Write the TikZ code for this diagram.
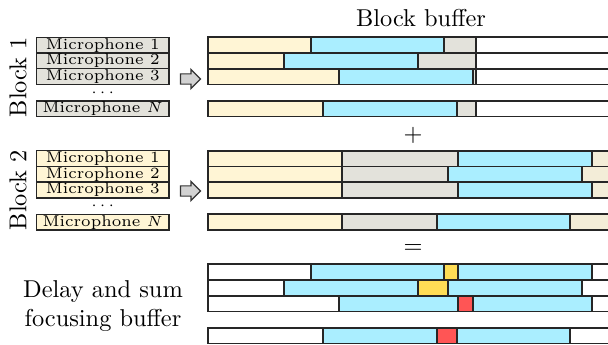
\documentclass[tikz,border=0pt]{standalone}
\usepackage{xcolor}
\usepackage{tikz}
\usetikzlibrary{shapes.arrows, positioning}

\definecolor{bufcream}{HTML}{FFF5D5}
\definecolor{bufblue}{HTML}{AAEEFF}
\definecolor{bufgray}{HTML}{E3E2DB}
\definecolor{bufold}{HTML}{F3EDD8}
\definecolor{bufyellow}{HTML}{FFDD55}
\definecolor{bufred}{HTML}{FF5555}

\begin{document}
\begin{tikzpicture}[
  x=0.41pt, y=-0.41pt,
  seg/.style      = {draw=black!85, line width=0.7pt},
  creamseg/.style = {seg, fill=bufcream},
  blueseg/.style  = {seg, fill=bufblue},
  grayseg/.style  = {seg, fill=bufgray},
  oldseg/.style   = {seg, fill=bufold},
  yelseg/.style   = {seg, fill=bufyellow},
  redseg/.style   = {seg, fill=bufred},
  emptyseg/.style = {seg, fill=white},
  micbox/.style   = {draw=black!85, line width=0.6pt, inner sep=0pt,
                     minimum width=54.5pt, minimum height=6.44pt,
                     font=\fontsize{6.4}{7}\selectfont},
  micdots/.style  = {inner sep=0pt, font=\fontsize{6.4}{7}\selectfont},
  blockarrow/.style = {shape=single arrow, draw=black!80, fill=gray!35,
                     line width=0.5pt, inner sep=1.85pt,
                     single arrow head extend=1.85pt,
                     minimum height=8.2pt},
  blklbl/.style   = {rotate=90, font=\normalsize},
]

\useasboundingbox (0,0) rectangle (608,345);
\clip (0,0) rectangle (608,345);

%% ── Title ───────────────────────────────────────────────────────────────────
\node (title) at (421,18) {Block buffer};

%% ── Block 1 ─────────────────────────────────────────────────────────────────
\node[blklbl] (blk1) at (18,77) {Block 1};

\node[micbox, fill=bufgray] (m1a) at (102.7,45.15)  {Microphone 1};
\node[micbox, fill=bufgray] (m1b) at (102.7,60.85)  {Microphone 2};
\node[micbox, fill=bufgray] (m1c) at (102.7,76.55)  {Microphone 3};
\node[micdots]              (d1)  at (102.7,93)     {$\cdots$};
\node[micbox, fill=bufgray] (m1n) at (102.7,108.65) {Microphone $N$};

\node[blockarrow] (arr1) at (188,79) {};

\foreach \y/\a/\b in {37.3/310.7/444, 53/284/417.7, 68.7/339.3/473.3,
                      100.8/323.3/456.7} {
  \draw[creamseg] (208.3,\y) rectangle (\a,\y+15.7);
  \draw[blueseg]  (\a,\y) rectangle (\b,\y+15.7);
  \draw[grayseg]  (\b,\y) rectangle (475.7,\y+15.7);
  \draw[emptyseg] (475.7,\y) rectangle (612,\y+15.7);
}

\node (plus) at (413,135) {$+$};

%% ── Block 2 ─────────────────────────────────────────────────────────────────
\node[blklbl] (blk2) at (18,190) {Block 2};

\node[micbox, fill=bufcream] (m2a) at (102.7,158.55) {Microphone 1};
\node[micbox, fill=bufcream] (m2b) at (102.7,174.25) {Microphone 2};
\node[micbox, fill=bufcream] (m2c) at (102.7,189.95) {Microphone 3};
\node[micdots]               (d2)  at (102.7,206.5)  {$\cdots$};
\node[micbox, fill=bufcream] (m2n) at (102.7,222.15) {Microphone $N$};

\node[blockarrow] (arr2) at (188,191) {};

\foreach \y/\a/\b in {150.7/458.3/591.7, 166.4/448.3/581.7,
                      182.1/458.3/591.7, 214.3/437/570} {
  \draw[creamseg] (208.3,\y) rectangle (342.3,\y+15.7);
  \draw[grayseg]  (342.3,\y) rectangle (\a,\y+15.7);
  \draw[blueseg]  (\a,\y) rectangle (\b,\y+15.7);
  \draw[oldseg]   (\b,\y) rectangle (612,\y+15.7);
}

\node (eq) at (413,249) {$=$};

%% ── Delay and sum result ────────────────────────────────────────────────────
\node[align=center] (das) at (103,306) {Delay and sum\\focusing buffer};

\foreach \y/\a/\b/\c/\d/\s in {264.3/310.7/444/458.3/591.7/yelseg,
                               280/284/417.7/448.3/581.7/yelseg,
                               295.7/339.3/458.3/473.3/591.7/redseg,
                               327.7/323.3/437/456.7/570/redseg} {
  \draw[emptyseg] (208.3,\y) rectangle (\a,\y+15.7);
  \draw[blueseg]  (\a,\y) rectangle (\b,\y+15.7);
  \draw[\s]       (\b,\y) rectangle (\c,\y+15.7);
  \draw[blueseg]  (\c,\y) rectangle (\d,\y+15.7);
  \draw[emptyseg] (\d,\y) rectangle (612,\y+15.7);
}

\end{tikzpicture}
\end{document}
